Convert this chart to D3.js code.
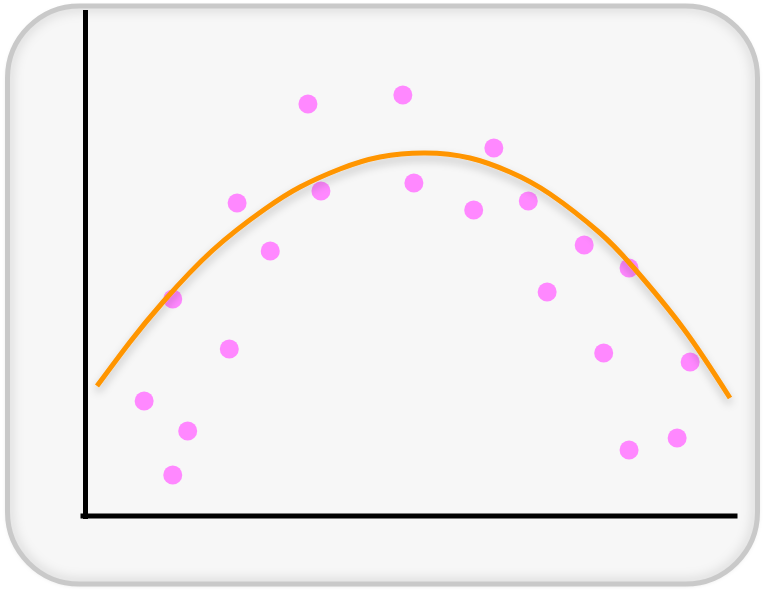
<!DOCTYPE html>
<html><head><meta charset="utf-8">
<script src="https://cdn.jsdelivr.net/npm/d3@7"></script>
<style>html,body{margin:0;padding:0;background:#fff;}svg{display:block;}</style>
</head><body>
<script>
// scatter data (x, y in data units)
const pointX = [0.91, 1.35, 1.58, 1.35, 2.22, 2.34, 2.85, 3.43, 3.63, 4.89, 5.06, 5.98, 6.29, 6.82, 7.11, 7.68, 7.98, 8.37, 8.37, 9.11, 9.31];
const pointY = [2.30, 0.82, 1.70, 4.34, 3.34, 6.26, 5.30, 8.24, 6.50, 8.42, 6.66, 6.12, 7.36, 6.30, 4.48, 5.42, 3.26, 4.96, 1.32, 1.56, 3.08];
// fitted curve
const curveX = [0.185, 0.692, 1.200, 1.969, 2.769, 3.308, 3.923, 4.538, 5.231, 5.923, 6.538, 7.154, 7.923, 8.431, 9.200, 9.923];
const curveY = [2.60, 3.48, 4.28, 5.32, 6.14, 6.58, 6.94, 7.18, 7.26, 7.16, 6.88, 6.44, 5.66, 4.98, 3.76, 2.36];

const W = 763, H = 591;
const svg = d3.select("body").append("svg").attr("width", W).attr("height", H);
const defs = svg.append("defs");

const shadow = defs.append("filter").attr("id", "lineShadow")
  .attr("x", "-10%").attr("y", "-10%").attr("width", "120%").attr("height", "130%");
shadow.append("feDropShadow").attr("dx", 0).attr("dy", 5).attr("stdDeviation", 4)
  .attr("flood-color", "#000").attr("flood-opacity", 0.22);

const outer = defs.append("filter").attr("id", "boxShadow")
  .attr("x", "-5%").attr("y", "-5%").attr("width", "110%").attr("height", "110%");
outer.append("feDropShadow").attr("dx", 0).attr("dy", 1).attr("stdDeviation", 2.5)
  .attr("flood-color", "#000").attr("flood-opacity", 0.18);

const inner = defs.append("filter").attr("id", "innerBlur");
inner.append("feGaussianBlur").attr("stdDeviation", 6);

const box = {x: 7.5, y: 6, w: 750, h: 578, r: 72};
defs.append("clipPath").attr("id", "boxClip").append("rect")
  .attr("x", box.x).attr("y", box.y).attr("width", box.w).attr("height", box.h)
  .attr("rx", box.r).attr("ry", box.r);

svg.append("rect").attr("x", box.x).attr("y", box.y).attr("width", box.w).attr("height", box.h)
  .attr("rx", box.r).attr("ry", box.r).attr("fill", "#f7f7f7").attr("filter", "url(#boxShadow)");
// inset shadow
svg.append("g").attr("clip-path", "url(#boxClip)").append("rect")
  .attr("x", box.x).attr("y", box.y).attr("width", box.w).attr("height", box.h)
  .attr("rx", box.r).attr("ry", box.r).attr("fill", "none")
  .attr("stroke", "#000").attr("stroke-opacity", 0.12).attr("stroke-width", 10)
  .attr("filter", "url(#innerBlur)");
svg.append("rect").attr("x", box.x).attr("y", box.y).attr("width", box.w).attr("height", box.h)
  .attr("rx", box.r).attr("ry", box.r).attr("fill", "none")
  .attr("stroke", "#c9c9c9").attr("stroke-width", 5);

const x = d3.scaleLinear().domain([0, 10]).range([85, 735]);
const y = d3.scaleLinear().domain([0, 10]).range([516, 16]);

// axes
const xAxis = svg.append("g").attr("transform", `translate(0,${y(0)})`)
  .call(d3.axisBottom(x).ticks(0).tickSizeOuter(0));
const yAxis = svg.append("g").attr("transform", `translate(${x(0)},0)`)
  .call(d3.axisLeft(y.copy().range([516, 12])).ticks(0).tickSizeOuter(0));
[xAxis, yAxis].forEach(a => a.select(".domain").attr("stroke", "#000").attr("stroke-width", 5).attr("stroke-linecap", "square"));
xAxis.select(".domain").attr("d", `M${x(0) - 2},0H${x(10)}`);

// points
svg.append("g").selectAll("circle").data(pointX.map((v, i) => [v, pointY[i]]))
  .join("circle").attr("cx", d => x(d[0])).attr("cy", d => y(d[1])).attr("r", 9.5)
  .attr("fill", "#ff88ff");

// curve
const line = d3.line().x(d => x(d[0])).y(d => y(d[1])).curve(d3.curveNatural);
svg.append("path").datum(curveX.map((v, i) => [v, curveY[i]]))
  .attr("d", line).attr("fill", "none").attr("stroke", "#ff9500").attr("stroke-width", 5)
  .attr("filter", "url(#lineShadow)");
</script>
</body></html>
